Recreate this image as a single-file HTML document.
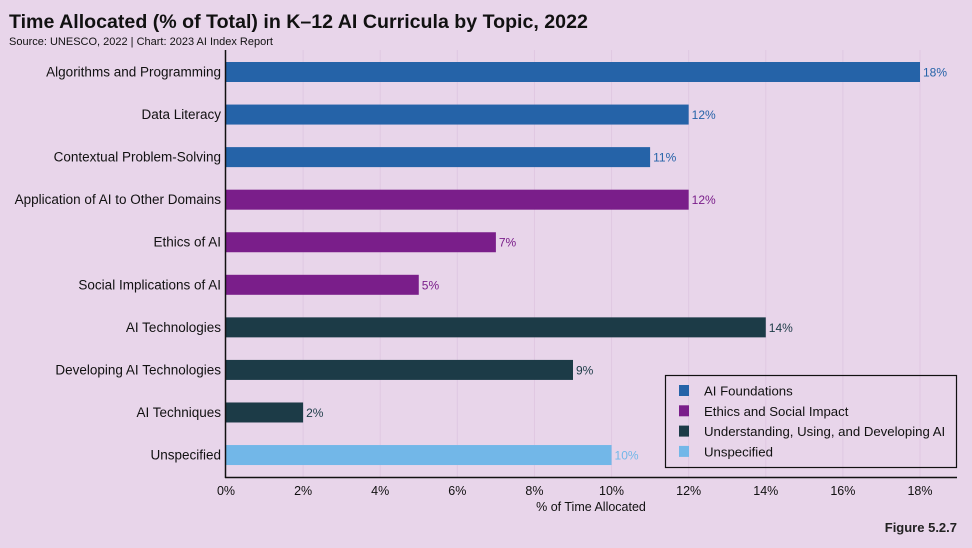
<!DOCTYPE html>
<html><head><meta charset="utf-8"><style>
body{margin:0;background:#e8d5ea;font-family:"Liberation Sans",sans-serif;}
svg{display:block}
</style></head><body>
<svg id="c" width="972" height="548" xmlns="http://www.w3.org/2000/svg">
<rect width="972" height="548" fill="#e8d5ea"/>
<text x="9" y="28" font-size="19.6" font-weight="bold" fill="#111">Time Allocated (% of Total) in K–12 AI Curricula by Topic, 2022</text>
<text x="9" y="45" font-size="11" fill="#111">Source: UNESCO, 2022 | Chart: 2023 AI Index Report</text>
<g id="grid"></g><g id="bars"></g>
<line x1="225.5" y1="50" x2="225.5" y2="478" stroke="#111" stroke-width="1.5"/>
<line x1="225" y1="477.5" x2="957" y2="477.5" stroke="#111" stroke-width="1.5"/>
<text x="591" y="511" font-size="12.5" text-anchor="middle" fill="#111">% of Time Allocated</text>
<text x="957" y="532" font-size="13" font-weight="bold" text-anchor="end" fill="#222">Figure 5.2.7</text>
<g>
<rect x="665.5" y="375.5" width="291" height="92" fill="none" stroke="#111" stroke-width="1.2"/>
<g id="leg"></g></g>
</svg>
<script>
const categories=["Algorithms and Programming","Data Literacy","Contextual Problem-Solving","Application of AI to Other Domains","Ethics of AI","Social Implications of AI","AI Technologies","Developing AI Technologies","AI Techniques","Unspecified"];
const values=[18,12,11,12,7,5,14,9,2,10];
const groups=[0,0,0,1,1,1,2,2,2,3];
const groupNames=["AI Foundations","Ethics and Social Impact","Understanding, Using, and Developing AI","Unspecified"];
const ticks=[0,2,4,6,8,10,12,14,16,18];
const colors=["#2563a8","#7a1e8a","#1c3b47","#72b7e8"];
const NS="http://www.w3.org/2000/svg";
const x=v=>226+v*(694/18);
const y=i=>72+i*42.56;
function mk(t,a,p){const e=document.createElementNS(NS,t);for(const k in a)e.setAttribute(k,a[k]);p.appendChild(e);return e;}
const g=document.getElementById('grid'),b=document.getElementById('bars'),lg=document.getElementById('leg');
ticks.forEach(t=>{
 if(t>0){const l=mk('line',{x1:x(t),x2:x(t),y1:50,y2:477,stroke:'#dfc8e2','stroke-width':1},g);
 
 }
 const tx=mk('text',{x:x(t),y:495,'font-size':12.5,'text-anchor':'middle',fill:'#111'},g);tx.textContent=t+'%';
 
 
});
categories.forEach((c,i)=>{
 const col=colors[groups[i]];
 const r=mk('rect',{x:x(0),y:y(i)-10,width:x(values[i])-x(0),height:20,fill:col},b);
 
 
 const lb=mk('text',{x:221,y:y(i)+4.5,'font-size':13.5,'text-anchor':'end',fill:'#111'},b);lb.textContent=c;
 
 
 const v=mk('text',{x:x(values[i])+3,y:y(i)+4.5,'font-size':12,fill:col},b);v.textContent=values[i]+'%';
 
 
});
groupNames.forEach((n,i)=>{
 const yy=391+i*20.3;
 const s=mk('rect',{x:679,y:yy-6,width:10,height:11,fill:colors[i]},lg);
 
 
 const t=mk('text',{x:704,y:yy+4.5,'font-size':13.2,fill:'#111'},lg);t.textContent=n;
 
 
});
</script>
</body></html>
